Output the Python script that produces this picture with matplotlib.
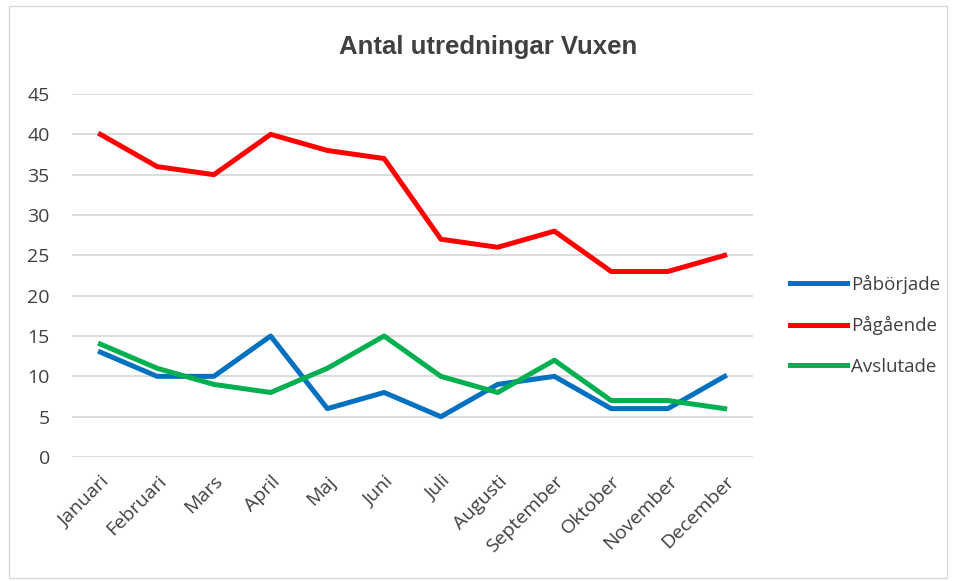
import matplotlib.pyplot as plt
from matplotlib.patches import Rectangle

months = ['Januari', 'Februari', 'Mars', 'April', 'Maj', 'Juni', 'Juli',
          'Augusti', 'September', 'Oktober', 'November', 'December']
paborjade = [13, 10, 10, 15, 6, 8, 5, 9, 10, 6, 6, 10]
pagaende = [40, 36, 35, 40, 38, 37, 27, 26, 28, 23, 23, 25]
avslutade = [14, 11, 9, 8, 11, 15, 10, 8, 12, 7, 7, 6]
yticks = list(range(0, 50, 5))

txt = '#404040'
fig = plt.figure(figsize=(9.55, 5.81), dpi=100)
fig.patches.append(Rectangle((0.009, 0.005), 0.983, 0.985, transform=fig.transFigure,
                             fill=False, edgecolor='#d9d9d9', linewidth=1))

ax = fig.add_axes([0.0754, 0.2134, 0.7131, 0.6248])
x = range(len(months))
ax.plot(x, paborjade, color='#0070c0', lw=3.6, label='Påbörjade', solid_joinstyle='round')
ax.plot(x, pagaende, color='#ff0000', lw=3.6, label='Pågående', solid_joinstyle='round')
ax.plot(x, avslutade, color='#00b050', lw=3.6, label='Avslutade', solid_joinstyle='round')

ax.set_xlim(-0.5, len(months) - 0.5)
ax.set_ylim(0, 45)
ax.set_yticks(yticks)
ax.set_xticks(list(x))
ax.set_xticklabels(months, rotation=45, ha='right', rotation_mode='anchor',
                   fontsize=14, family='Open Sans', color=txt)
for lab in ax.get_yticklabels():
    lab.set_fontsize(14)
    lab.set_family('Open Sans')
    lab.set_color(txt)
ax.tick_params(axis='y', length=0, pad=16)
ax.tick_params(axis='x', length=0, pad=11)
ax.grid(axis='y', color='#d9d9d9', lw=1.3)
ax.set_axisbelow(True)
for s in ax.spines.values():
    s.set_visible(False)

fig.text(0.511, 0.919, 'Antal utredningar Vuxen', ha='center', va='center',
         fontsize=18.5, fontweight='bold', family='Liberation Sans', color=txt)

fig.legend(loc='center left', bbox_to_anchor=(0.81, 0.44), frameon=False,
           handlelength=3.0, handletextpad=0.25, labelspacing=1.2,
           prop={'family': 'Open Sans', 'size': 13.5}, labelcolor=txt)

fig.savefig('out.png', dpi=100)
